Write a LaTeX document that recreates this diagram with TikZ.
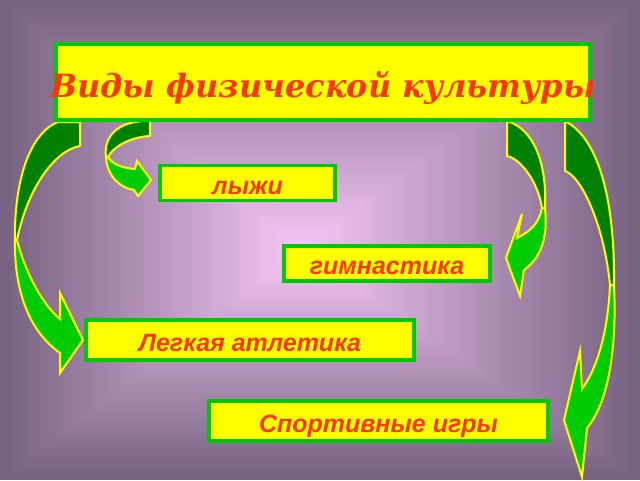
\documentclass[tikz,border=0pt]{standalone}
\usepackage{fontspec}
\setmainfont{Liberation Sans}
\newfontfamily\headfont{DejaVu Serif}

\definecolor{bgedge}{RGB}{118,98,128}
\definecolor{bgcenter}{RGB}{246,198,246}
\definecolor{boxline}{RGB}{0,200,0}
\definecolor{boxfill}{RGB}{255,255,0}
\definecolor{labelred}{RGB}{250,55,0}
\definecolor{backgreen}{RGB}{0,128,0}
\definecolor{frontgreen}{RGB}{0,204,0}
\definecolor{rimyellow}{RGB}{255,255,0}

\tikzset{
  kind/.style={draw=boxline,line width=3.5pt,fill=boxfill,inner sep=0pt,
    text height=22pt,text depth=0pt,
    font=\bfseries\itshape\fontsize{25}{25}\selectfont,text=labelred},
  arrowback/.style={draw=rimyellow,line width=2pt,fill=backgreen,line join=round},
  arrowfront/.style={draw=rimyellow,line width=2pt,fill=frontgreen},
}

\begin{document}
\begin{tikzpicture}[x=1pt,y=-1pt]
\useasboundingbox (0,0) rectangle (640,480);
% background
\foreach \i in {0,...,59}{
  \pgfmathsetmacro\f{\i/60}
  \pgfmathtruncatemacro\p{100*\i/59}
  \fill[bgcenter!\p!bgedge] ({\f*300},{\f*250}) rectangle ({640-\f*340},{480-\f*230});
}
% curved arrows
\draw[arrowback] (58,122) -- (80,122) -- (80,146) .. controls (56,150) and (28,186) .. (17,240) -- (15,240) .. controls (14,185) and (28,134) .. (58,122) -- cycle;
\draw[arrowfront] (15,240) .. controls (14,292) and (30,332) .. (60,353) -- (60,373) -- (83,340) -- (60,293) -- (60,319) .. controls (44,306) and (26,275) .. (17,240) -- cycle;
\draw[arrowback] (150,121) -- (150,136) .. controls (130,137) and (113,147) .. (108,157) -- (106,157) .. controls (103,135) and (120,120) .. (150,121) -- cycle;
\draw[arrowfront] (106,157) .. controls (107,176) and (120,188) .. (134,190) -- (138,196) -- (151,180) -- (137,161) -- (135,169) .. controls (123,168) and (113,165) .. (108,157) -- cycle;
\draw[arrowback] (507,121) -- (507,156) .. controls (521,159) and (538,182) .. (542,208) -- (545,208) .. controls (547,170) and (537,130) .. (507,121) -- cycle;
\draw[arrowfront] (545,208) .. controls (548,236) and (542,257) .. (524,270) -- (520,296) -- (506,258) -- (522,214) -- (517,238) .. controls (531,231) and (539,223) .. (542,208) -- cycle;
\draw[arrowback] (565,121) -- (565,171) .. controls (581,176) and (604,224) .. (610,285) -- (614,285) .. controls (615,210) and (602,140) .. (565,121) -- cycle;
\draw[arrowfront] (614,285) .. controls (617,346) and (609,402) .. (587,428) -- (582,477) -- (564,420) -- (580,351) -- (582,389) .. controls (598,367) and (608,330) .. (610,285) -- cycle;
% boxes
\node[kind,minimum width=534,minimum height=76] (title) at (323,82) {};
\node[font=\headfont\bfseries\itshape\fontsize{32}{32}\selectfont,text=labelred,anchor=base] (titletext) at (323,97) {Виды физической культуры};
\node[kind,minimum width=175,minimum height=35] (ski) at (247.5,183) {лыжи};
\node[kind,minimum width=206,minimum height=35] (gym) at (387,263.5) {гимнастика};
\node[kind,minimum width=328,minimum height=40] (athl) at (250,340) {Легкая атлетика};
\node[kind,minimum width=339,minimum height=40] (games) at (378.5,421) {Спортивные игры};
\end{tikzpicture}
\end{document}
